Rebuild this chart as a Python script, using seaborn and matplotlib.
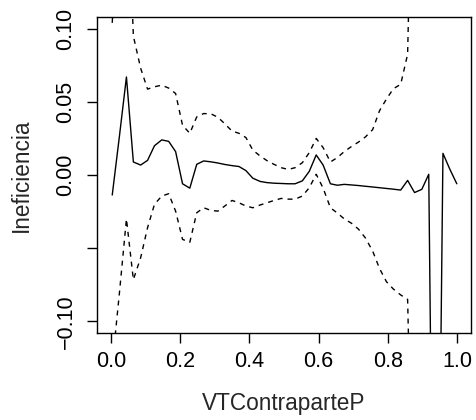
import matplotlib
matplotlib.use("Agg")
import matplotlib.pyplot as plt
import seaborn as sns
import pandas as pd

x_vals = [0.004, 0.025, 0.045, 0.065, 0.086, 0.106, 0.126, 0.147, 0.167, 0.187,
          0.207, 0.228, 0.248, 0.268, 0.289, 0.309, 0.329, 0.350, 0.370, 0.390,
          0.410, 0.431, 0.451, 0.471, 0.492, 0.512, 0.532, 0.553, 0.573, 0.593,
          0.613, 0.634, 0.654, 0.674, 0.695, 0.715, 0.735, 0.756, 0.776, 0.796,
          0.816, 0.837, 0.857, 0.877, 0.898, 0.918, 0.938, 0.959, 0.979, 0.999]

fit_vals = [-0.0137, 0.027, 0.067, 0.0089, 0.0068, 0.010, 0.020, 0.024, 0.023, 0.016,
            -0.006, -0.009, 0.0073, 0.0096, 0.0090, 0.0082, 0.0072, 0.0064, 0.0058, 0.0030,
            -0.0022, -0.0044, -0.0052, -0.0056, -0.0058, -0.0060, -0.0060, -0.0040, 0.0025, 0.0137,
            0.0068, -0.0060, -0.0070, -0.0064, -0.0068, -0.0072, -0.0077, -0.0082, -0.0087, -0.0092,
            -0.0097, -0.0103, -0.0037, -0.0120, -0.0098, 0.0005, -0.45, 0.0148, 0.0039, -0.0060]

upper_vals = [0.104, 0.20, 0.22, 0.095, 0.073, 0.0587, 0.0603, 0.0614, 0.0594, 0.0557,
              0.034, 0.0285, 0.0397, 0.042, 0.0418, 0.0395, 0.035, 0.030, 0.0285, 0.0256,
              0.017, 0.013, 0.0098, 0.0073, 0.005, 0.0038, 0.005, 0.0084, 0.0153, 0.025,
              0.0187, 0.0089, 0.0119, 0.016, 0.0195, 0.0225, 0.026, 0.031, 0.044, 0.052,
              0.059, 0.062, 0.0826, 0.30, 0.50, 0.60, 0.60, 0.60, 0.60, 0.60]

lower_vals = [-0.13, -0.08, -0.030, -0.0715, -0.0566, -0.036, -0.020, -0.0144, -0.0128, -0.0247,
              -0.044, -0.046, -0.0258, -0.0224, -0.0242, -0.0247, -0.0212, -0.0174, -0.019, -0.0212,
              -0.0224, -0.0205, -0.019, -0.0174, -0.0160, -0.0165, -0.0165, -0.0144, -0.0087, 0.0005,
              -0.009, -0.0224, -0.026, -0.030, -0.033, -0.037, -0.043, -0.052, -0.064, -0.073,
              -0.078, -0.082, -0.085, -0.30, -0.50, -0.60, -0.60, -0.60, -0.60, -0.60]

x_ticks = [0.0, 0.2, 0.4, 0.6, 0.8, 1.0]
x_tick_labels = ["0.0", "0.2", "0.4", "0.6", "0.8", "1.0"]
y_ticks = [-0.10, -0.05, 0.00, 0.05, 0.10]
y_tick_labels = ["\u22120.10", "", "0.00", "0.05", "0.10"]

df = pd.DataFrame({"x": x_vals, "fit": fit_vals, "upper": upper_vals, "lower": lower_vals})

sns.set_style("ticks")
plt.rcParams["font.family"] = ["Liberation Sans", "DejaVu Sans"]

fig = plt.figure(figsize=(4.77, 4.2), dpi=100)
ax = fig.add_axes([97 / 477, 1 - 333 / 420, 374 / 477, 316 / 420])

lw = 1.0
sns.lineplot(data=df, x="x", y="fit", color="black", linewidth=lw, ax=ax,
             estimator=None, sort=False)
for col in ["upper", "lower"]:
    sns.lineplot(data=df, x="x", y=col, color="black", linewidth=lw, ax=ax,
                 estimator=None, sort=False, linestyle=(0, (3.6, 3.6)))

ax.set_xlim(-0.04, 1.04)
ax.set_ylim(-0.108, 0.108)
ax.set_xticks(x_ticks)
ax.set_xticklabels(x_tick_labels)
ax.set_yticks(y_ticks)
ax.set_yticklabels(y_tick_labels, rotation=90, va="center")

for s in ax.spines.values():
    s.set_visible(True)
    s.set_linewidth(lw)
    s.set_color("black")

ax.tick_params(axis="both", direction="out", length=7.2, width=lw, colors="black",
               labelsize=15.5)
ax.tick_params(axis="x", pad=5.8)
ax.tick_params(axis="y", pad=7.5)

ax.set_xlabel("VTContraparteP", fontsize=16.3)
ax.set_ylabel("Ineficiencia", fontsize=16.3)
ax.xaxis.set_label_coords(0.5, -0.188)
ax.yaxis.set_label_coords(-0.172, 0.5)

fig.savefig("out.png", dpi=100, facecolor="white")
